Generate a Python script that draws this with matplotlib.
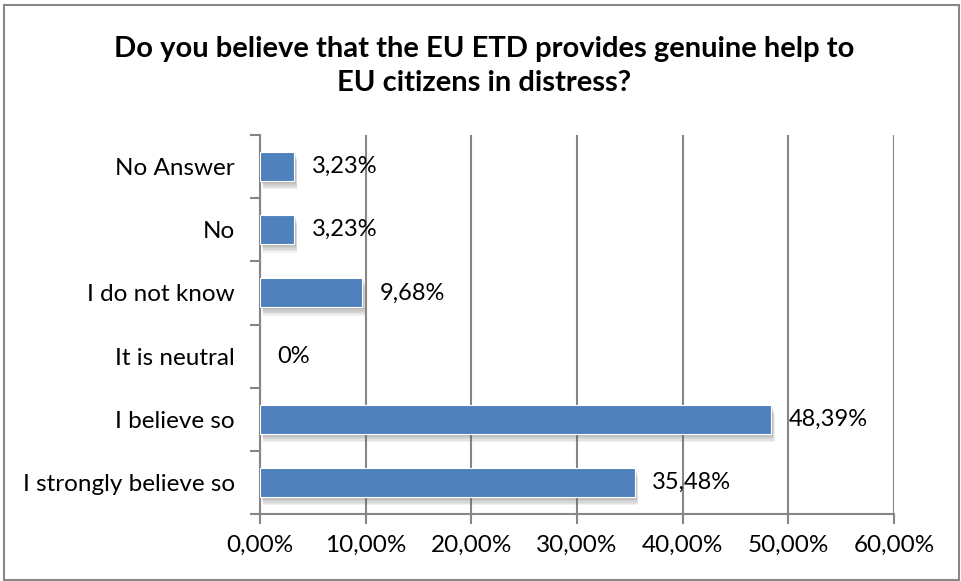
import matplotlib
matplotlib.use("Agg")
import matplotlib.pyplot as plt
import matplotlib.patheffects as pe
from matplotlib.patches import Rectangle
from matplotlib.ticker import FuncFormatter

categories = ["I strongly believe so", "I believe so", "It is neutral",
              "I do not know", "No", "No Answer"]
values = [35.48, 48.39, 0.0, 9.68, 3.23, 3.23]
value_labels = ["35,48%", "48,39%", "0%", "9,68%", "3,23%", "3,23%"]
xticks = [0, 10, 20, 30, 40, 50, 60]
title = "Do you believe that the EU ETD provides genuine help to\nEU citizens in distress?"

W, H = 961, 581
fig = plt.figure(figsize=(W / 100, H / 100), dpi=100)
fig.patch.set_facecolor("white")
plt.rcParams['font.family'] = ['Lato', 'DejaVu Sans']

# outer frame
fig.add_artist(Rectangle((4 / W, 1 - 580 / H), 955 / W, 575 / H, transform=fig.transFigure,
                         fill=False, edgecolor="#888888", linewidth=1.5))

ax = fig.add_axes([260 / W, 1 - 514 / H, (894 - 260) / W, (514 - 135) / H])
grey = "#868686"
y = list(range(len(categories)))
bars = ax.barh(y, values, height=0.46, color="#4F81BD", edgecolor="#FFFFFF", linewidth=0.8, zorder=3)
shadow = [pe.SimplePatchShadow(offset=(0.8 + 0.25 * k, -1.0 * k), shadow_rgbFace="#606060", alpha=0.09)
          for k in range(1, 7)]
for b, v in zip(bars, values):
    if v == 0:
        b.set_visible(False)
        continue
    b.set_path_effects(shadow + [pe.Normal()])

for yi, v, lab in zip(y, values, value_labels):
    ax.annotate(lab, (v, yi), xytext=(12.5, 0), textcoords="offset points",
                va="center", ha="left", fontsize=17, color="black", zorder=4)

ax.set_xlim(0, 60)
ax.set_ylim(-0.5, len(categories) - 0.5)
ax.set_xticks(xticks)
ax.xaxis.set_major_formatter(FuncFormatter(lambda v, p: f"{v:.2f}%".replace(".", ",")))
ax.set_yticks(y)
ax.set_yticklabels(categories)
ax.set_yticks([i - 0.5 for i in range(len(categories) + 1)], minor=True)
ax.tick_params(axis="y", which="major", length=0, pad=18, labelsize=17.5)
ax.tick_params(axis="y", which="minor", length=7, width=1.5, color=grey)
ax.tick_params(axis="x", length=7, width=1.5, color=grey, labelsize=17.5, pad=8)
ax.grid(axis="x", color=grey, linewidth=1.5, zorder=0)
ax.set_axisbelow(True)
for s in ["top", "right"]:
    ax.spines[s].set_visible(False)
for s in ["left", "bottom"]:
    ax.spines[s].set_color(grey)
    ax.spines[s].set_linewidth(1.5)

fig.text(484 / W, 1 - 66 / H, title, ha="center", va="center", fontsize=21,
         fontweight="bold", linespacing=1.42)

fig.savefig("out.png", dpi=100)
